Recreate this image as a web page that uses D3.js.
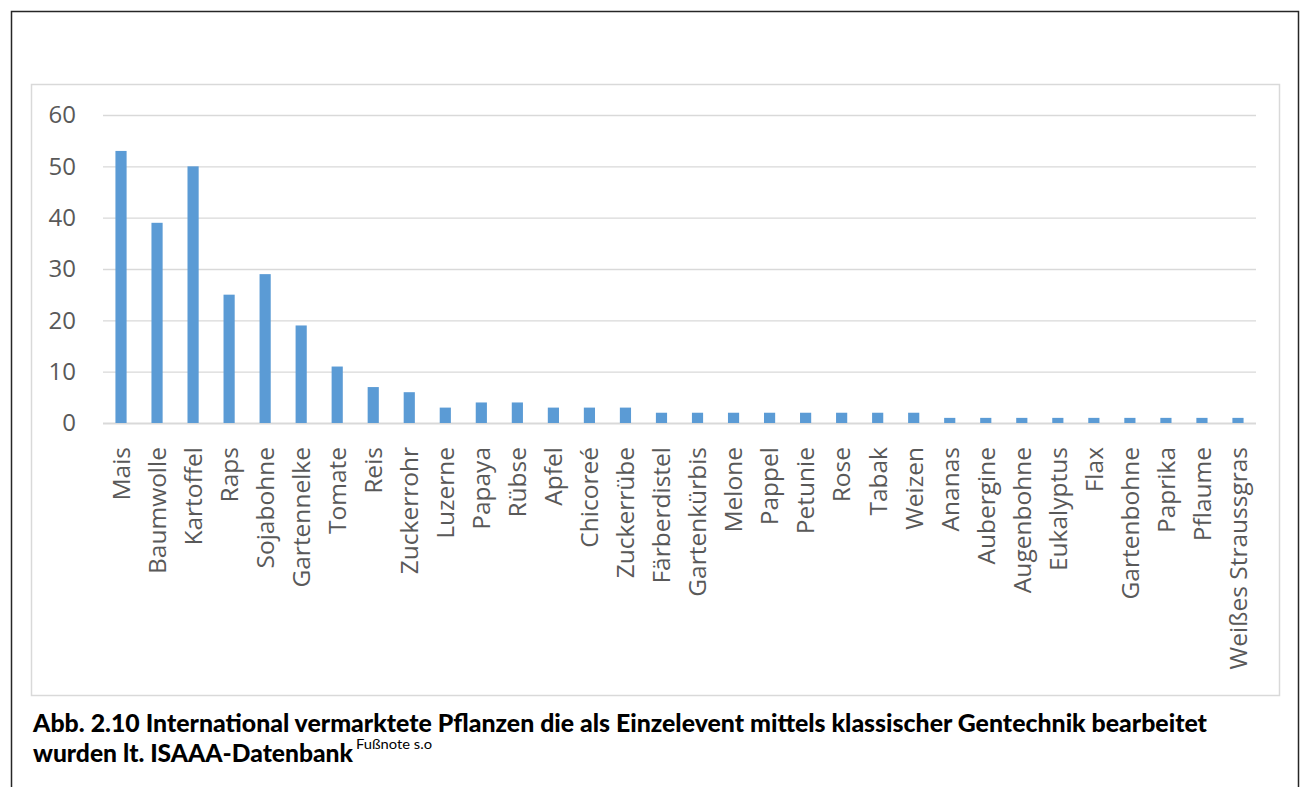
<!DOCTYPE html>
<html>
<head>
<meta charset="utf-8">
<script src="https://cdn.jsdelivr.net/npm/d3@7"></script>
<style>
  body { margin: 0; background: #fff; }
  svg { display: block; }
</style>
</head>
<body>
<svg id="chart" width="1301" height="787"></svg>
<script>
// crops and counts
var categories = ["Mais", "Baumwolle", "Kartoffel", "Raps", "Sojabohne", "Gartennelke", "Tomate", "Reis",
  "Zuckerrohr", "Luzerne", "Papaya", "Rübse", "Apfel", "Chicoreé", "Zuckerrübe", "Färberdistel",
  "Gartenkürbis", "Melone", "Pappel", "Petunie", "Rose", "Tabak", "Weizen", "Ananas", "Aubergine",
  "Augenbohne", "Eukalyptus", "Flax", "Gartenbohne", "Paprika", "Pflaume", "Weißes Straussgras"]
var counts = [53, 39, 50, 25, 29, 19, 11, 7, 6, 3, 4, 4, 3, 3, 3, 2, 2, 2, 2, 2, 2, 2, 2, 1, 1, 1, 1, 1, 1, 1, 1, 1]
var yTicks = [0, 10, 20, 30, 40, 50, 60]
var captionLine1 = "Abb. 2.10 International vermarktete Pflanzen die als Einzelevent mittels klassischer Gentechnik bearbeitet"
var captionLine2 = "wurden lt. ISAAA-Datenbank"
var captionNote = "Fußnote s.o"

var svg = d3.select("#chart")

// outer frame of the figure (no bottom edge visible)
svg.append("path")
   .attr("d", "M11.5,787 V11.5 H1298.5 V787")
   .attr("fill", "none")
   .attr("stroke", "#262626")
   .attr("stroke-width", 1.5)

// chart area border
svg.append("rect")
   .attr("x", 31.5).attr("y", 84.5)
   .attr("width", 1248).attr("height", 611)
   .attr("fill", "none")
   .attr("stroke", "#d9d9d9")
   .attr("stroke-width", 1.5)

var plotLeft = 103, plotRight = 1256, plotTop = 115, plotBottom = 423

var xScale = d3.scaleBand()
    .domain(categories)
    .range([plotLeft, plotRight])
    .paddingInner(0.69)
    .paddingOuter(0.345)

var yScale = d3.scaleLinear()
    .domain([0, 60])
    .range([plotBottom, plotTop])

// gridlines + y labels
var yAxis = svg.append("g")
    .attr("transform", "translate(" + plotLeft + ",0)")
    .call(d3.axisLeft(yScale).tickValues(yTicks).tickSize(-(plotRight - plotLeft)).tickPadding(27))
yAxis.select(".domain").remove()
yAxis.selectAll("line")
     .attr("stroke", "#d9d9d9")
     .attr("stroke-width", function(d) { return d == 0 ? 1.8 : 1.3 })
yAxis.selectAll("text")
     .attr("fill", "#595959")
     .style("font-family", "'Open Sans', sans-serif")
     .style("font-size", "24px")

// bars
svg.selectAll(".bar")
   .data(categories)
   .enter()
   .append("rect")
   .attr("class", "bar")
   .attr("x", function(d) { return xScale(d) })
   .attr("width", xScale.bandwidth())
   .attr("y", function(d, i) { return yScale(counts[i]) })
   .attr("height", function(d, i) { return plotBottom - yScale(counts[i]) })
   .attr("fill", "#5b9bd5")

// rotated category labels
svg.selectAll(".cat")
   .data(categories)
   .enter()
   .append("text")
   .attr("class", "cat")
   .attr("transform", function(d) { return "translate(" + (xScale(d) + xScale.bandwidth() / 2) + ",447) rotate(-90)" })
   .attr("dy", "0.36em")
   .attr("text-anchor", "end")
   .attr("fill", "#595959")
   .style("font-family", "'Open Sans', sans-serif")
   .style("font-size", "24.5px")
   .text(function(d) { return d })

// caption
var cap = svg.append("g")
    .style("font-family", "Lato, 'Open Sans', sans-serif")
    .attr("fill", "#000")
cap.append("text")
   .attr("x", 33).attr("y", 732)
   .style("font-size", "24px").style("font-weight", "900")
   .attr("textLength", 1174).attr("lengthAdjust", "spacingAndGlyphs")
   .text(captionLine1)
cap.append("text")
   .attr("x", 33).attr("y", 762)
   .style("font-size", "24px").style("font-weight", "900")
   .attr("textLength", 320).attr("lengthAdjust", "spacingAndGlyphs")
   .text(captionLine2)
cap.append("text")
   .attr("x", 356).attr("y", 749)
   .style("font-size", "14px")
   .attr("textLength", 76).attr("lengthAdjust", "spacingAndGlyphs")
   .text(captionNote)
</script>
</body>
</html>
